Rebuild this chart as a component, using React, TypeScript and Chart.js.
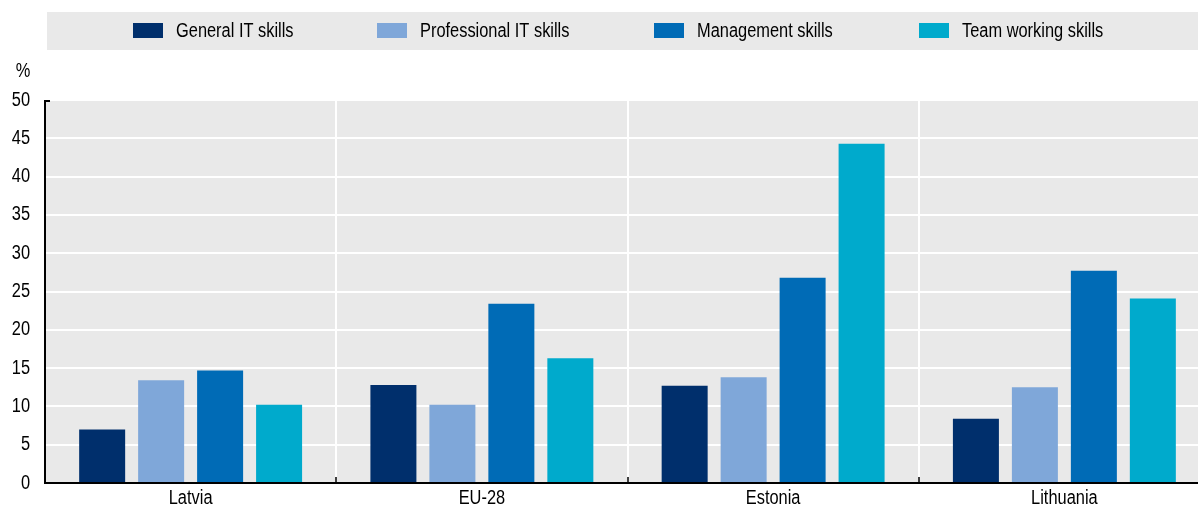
import React, { useEffect, useRef } from "react";
import { Chart, registerables } from "chart.js";

Chart.register(...registerables);

const categories = ["Latvia", "EU-28", "Estonia", "Lithuania"];
const seriesNames = ["General IT skills", "Professional IT skills", "Management skills", "Team working skills"];
const generalIT = [7.0, 12.8, 12.7, 8.4];
const professionalIT = [13.4, 10.2, 13.8, 12.5];
const management = [14.7, 23.4, 26.8, 27.7];
const teamWorking = [10.2, 16.3, 44.3, 24.1];
const seriesColors = ["#002F6C", "#7FA7D9", "#006BB6", "#00AACC"];
const yTicks = [0, 5, 10, 15, 20, 25, 30, 35, 40, 45, 50];
const yUnit = "%";

const FONT = "'Liberation Sans', Arial, sans-serif";
const GREY = "#E9E9E9";
const SQUEEZE = 0.82;

function drawText(ctx: any, text: string, x: number, y: number, align: "left" | "right" | "center") {
  ctx.save();
  ctx.font = `20px ${FONT}`;
  ctx.textBaseline = "middle";
  ctx.textAlign = align;
  ctx.fillStyle = "#000";
  ctx.translate(x, y);
  ctx.scale(SQUEEZE, 1);
  ctx.fillText(text, 0, 0);
  ctx.restore();
}

const decorPlugin = {
  id: "decor",
  beforeDraw(chart: any) {
    const { ctx, chartArea } = chart;
    ctx.save();
    ctx.fillStyle = GREY;
    ctx.fillRect(47, 12, chart.width - 47, 38);
    ctx.fillRect(chartArea.left, chartArea.top, chartArea.right - chartArea.left, chartArea.bottom - chartArea.top);
    ctx.restore();
  },
  afterDraw(chart: any) {
    const { ctx, chartArea } = chart;
    const x = chart.scales.x;
    const y = chart.scales.y;
    ctx.save();
    // legend
    const legendX = [133, 377, 654, 919];
    seriesNames.forEach((n, i) => {
      ctx.fillStyle = seriesColors[i];
      ctx.fillRect(legendX[i], 23, 30, 15);
      drawText(ctx, n, legendX[i] + 43, 31, "left");
    });
    // unit
    drawText(ctx, yUnit, 23, 71, "center");
    // y tick labels
    yTicks.forEach((v) => {
      drawText(ctx, String(v), 30, y.getPixelForValue(v), "right");
    });
    // x tick labels
    categories.forEach((c, i) => {
      drawText(ctx, c, x.getPixelForValue(i), 498, "center");
    });
    // axes
    ctx.strokeStyle = "#000";
    ctx.lineWidth = 2;
    ctx.beginPath();
    ctx.moveTo(chartArea.left, chartArea.top);
    ctx.lineTo(chartArea.left, chartArea.bottom);
    ctx.lineTo(chartArea.right, chartArea.bottom);
    ctx.stroke();
    ctx.beginPath();
    ctx.moveTo(chartArea.left - 1, chartArea.top + 1);
    ctx.lineTo(chartArea.left + 5, chartArea.top + 1);
    ctx.stroke();
    ctx.lineWidth = 1.5;
    for (let i = 1; i < categories.length; i++) {
      const px = Math.round(x.getPixelForValue(i - 0.5));
      ctx.beginPath();
      ctx.moveTo(px, chartArea.bottom);
      ctx.lineTo(px, chartArea.bottom - 6);
      ctx.stroke();
    }
    ctx.restore();
  },
};

export default function App() {
  const ref = useRef<HTMLCanvasElement | null>(null);
  useEffect(() => {
    document.body.style.margin = "0";
    const data = [generalIT, professionalIT, management, teamWorking];
    const chart = new Chart(ref.current as HTMLCanvasElement, {
      type: "bar",
      data: {
        labels: categories,
        datasets: seriesNames.map((n, i) => ({
          label: n,
          data: data[i],
          backgroundColor: seriesColors[i],
          borderWidth: 0,
          categoryPercentage: 0.81,
          barPercentage: 0.78,
        })),
      },
      options: {
        animation: false,
        responsive: false,
        maintainAspectRatio: false,
        layout: { padding: { top: 100, right: 0, left: 45, bottom: 24 } },
        plugins: { legend: { display: false }, tooltip: { enabled: false } },
        scales: {
          x: {
            grid: { color: "#FFFFFF", lineWidth: 2, drawTicks: false, offset: true },
            border: { display: false },
            ticks: { display: false },
          },
          y: {
            min: 0,
            max: 50,
            afterBuildTicks: (s: any) => {
              s.ticks = yTicks.map((v) => ({ value: v }));
            },
            grid: { color: "#FFFFFF", lineWidth: 2, drawTicks: false },
            border: { display: false },
            ticks: { display: false },
          },
        },
      },
      plugins: [decorPlugin],
    });
    return () => chart.destroy();
  }, []);
  return (
    <div style={{ position: "absolute", left: 0, top: 0, width: 1198, height: 507, overflow: "hidden" }}>
      <canvas ref={ref} width={1210} height={507} style={{ width: 1210, height: 507 }} />
    </div>
  );
}
